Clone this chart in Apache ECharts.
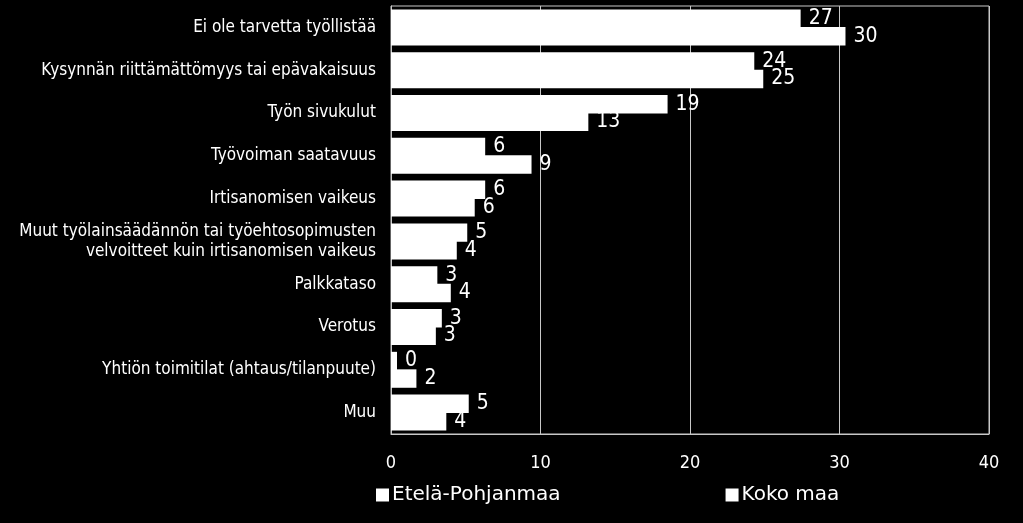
<!DOCTYPE html>
<html><head><meta charset="utf-8">
<script src="https://cdn.jsdelivr.net/npm/echarts@6/dist/echarts.min.js"></script>
<style>html,body{margin:0;padding:0;background:#000;}#c{width:1023px;height:523px;}</style>
</head><body><div id="c"></div>
<script>
const categories = [
  "Ei ole tarvetta työllistää",
  "Kysynnän riittämättömyys tai epävakaisuus",
  "Työn sivukulut",
  "Työvoiman saatavuus",
  "Irtisanomisen vaikeus",
  "Muut työlainsäädännön tai työehtosopimusten\nvelvoitteet kuin irtisanomisen vaikeus",
  "Palkkataso",
  "Verotus",
  "Yhtiön toimitilat (ahtaus/tilanpuute)",
  "Muu"
];
const seriesNames = ["Etelä-Pohjanmaa", "Koko maa"];
const etelaPohjanmaa = [27.4, 24.3, 18.5, 6.3, 6.3, 5.1, 3.1, 3.4, 0.4, 5.2];
const kokoMaa = [30.4, 24.9, 13.2, 9.4, 5.6, 4.4, 4.0, 3.0, 1.7, 3.7];
const xTicks = [0, 10, 20, 30, 40];

const font = "'DejaVu Sans Condensed', 'DejaVu Sans', sans-serif";
const chart = echarts.init(document.getElementById('c'));
function mkSeries(name, data) {
  return {
    name: name, type: 'bar', data: data,
    barGap: '-5%', barCategoryGap: '16%',
    itemStyle: { color: '#ffffff', borderWidth: 0 },
    label: { show: true, position: 'right', distance: 8, color: '#ffffff',
      fontSize: 21, fontFamily: font, formatter: p => Math.round(p.value) },
    animation: false
  };
}
chart.setOption({
  backgroundColor: '#000000',
  animation: false,
  grid: { left: 391, right: 34, top: 6, bottom: 89, containLabel: false,
    show: true, borderColor: '#c8c8c8', borderWidth: 1 },
  legend: {
    data: seriesNames, top: 485, left: 376, itemGap: 165, padding: 0,
    itemWidth: 13, itemHeight: 13, icon: 'rect',
    itemStyle: { borderWidth: 0, color: '#ffffff' },
    textStyle: { color: '#ffffff', fontSize: 20, fontFamily: "'DejaVu Sans', sans-serif", padding: [0,0,0,-2] }
  },
  xAxis: {
    type: 'value', min: xTicks[0], max: xTicks[xTicks.length-1], interval: 10,
    axisLine: { show: true, lineStyle: { color: '#c8c8c8' } },
    axisTick: { show: false },
    splitLine: { show: true, lineStyle: { color: '#c8c8c8', width: 1 } },
    axisLabel: { color: '#ffffff', fontSize: 18, fontFamily: font, margin: 20 }
  },
  yAxis: {
    type: 'category', data: categories, inverse: true,
    axisLine: { show: true, lineStyle: { color: '#c8c8c8' } },
    axisTick: { show: false },
    axisLabel: { color: '#ffffff', fontSize: 17, fontFamily: font, margin: 15,
      lineHeight: 20, align: 'right' }
  },
  series: [mkSeries(seriesNames[0], etelaPohjanmaa), mkSeries(seriesNames[1], kokoMaa)]
});
</script></body></html>
